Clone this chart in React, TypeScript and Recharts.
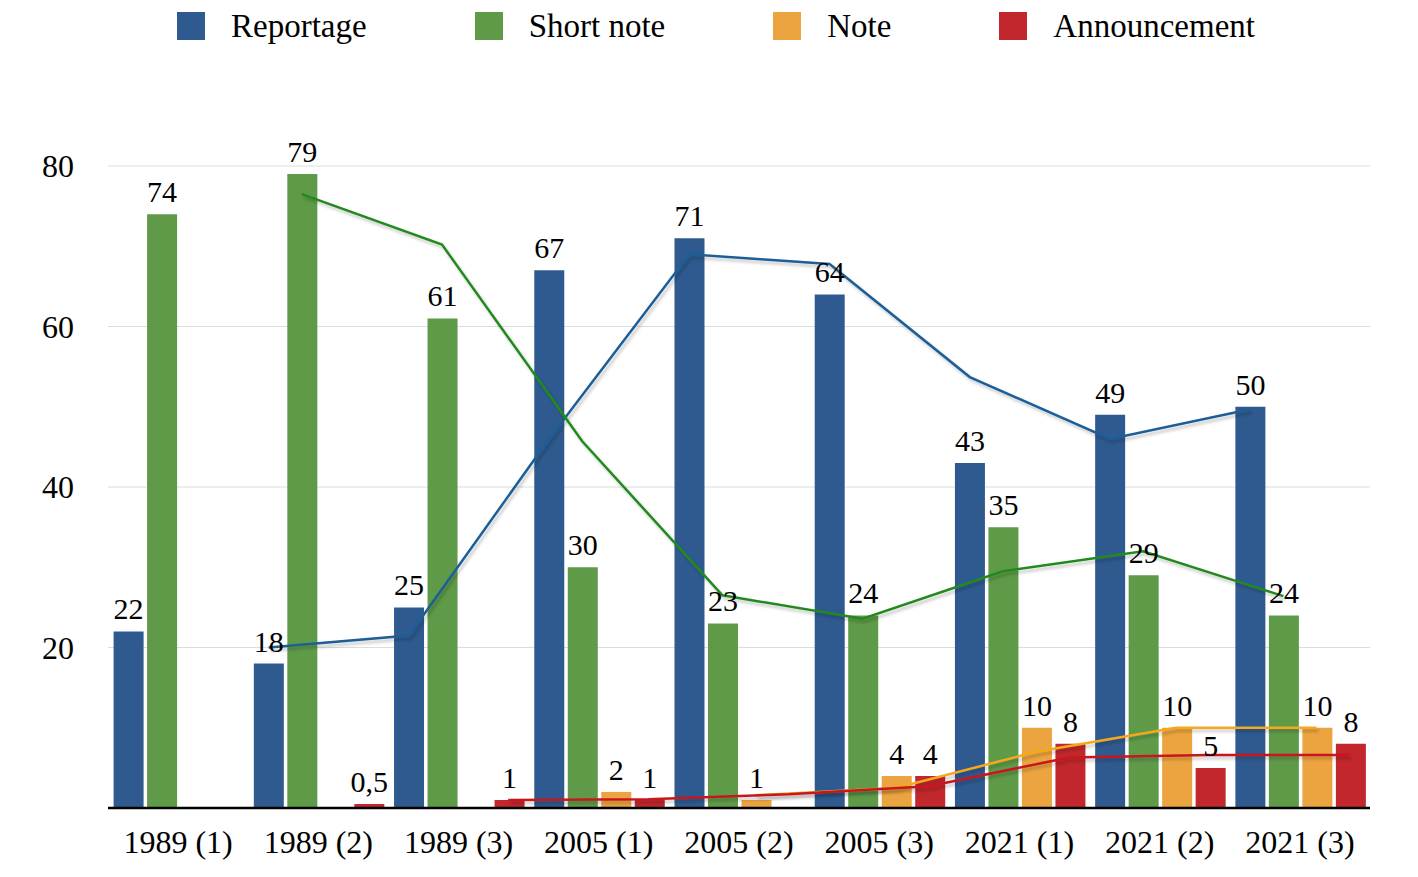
import {
  ComposedChart,
  Bar,
  Line,
  XAxis,
  YAxis,
  CartesianGrid,
  Legend,
  LabelList,
} from "recharts";

const periods = [
  "1989 (1)",
  "1989 (2)",
  "1989 (3)",
  "2005 (1)",
  "2005 (2)",
  "2005 (3)",
  "2021 (1)",
  "2021 (2)",
  "2021 (3)",
];

const reportage = [22, 18, 25, 67, 71, 64, 43, 49, 50];
const shortNote = [74, 79, 61, 30, 23, 24, 35, 29, 24];
const note = [0, 0, 0, 2, 1, 4, 10, 10, 10];
const announcement = [0, 0.5, 1, 1, 0, 4, 8, 5, 8];

// trend lines (null = no point)
const reportageTrend = [null, 20, 21.5, 46, 69, 67.8, 53.7, 46, 49.7];
const shortNoteTrend = [null, 76.5, 70.2, 45.7, 26.5, 23.6, 29.5, 32, 26.4];
const noteTrend = [null, null, null, null, 1.6, 2.5, 7, 10, 10];
const announcementTrend = [null, null, 1, 1.1, 1.7, 2.7, 6.3, 6.6, 6.6];

const yTicks = [20, 40, 60, 80];

const FONT = '"Liberation Serif", "Times New Roman", serif';

const series = [
  { key: "reportage", name: "Reportage", values: reportage, trend: reportageTrend, bar: "#2E5A8F", line: "#1D5E96" },
  { key: "shortNote", name: "Short note", values: shortNote, trend: shortNoteTrend, bar: "#5E9A48", line: "#238A1F" },
  { key: "note", name: "Note", values: note, trend: noteTrend, bar: "#EBA43F", line: "#F5A81F" },
  { key: "announcement", name: "Announcement", values: announcement, trend: announcementTrend, bar: "#C1272D", line: "#C8171E" },
];

// each trend line sits on its own bar, so shift it inside the category band
const barShift = [-0.354, -0.118, 0.118, 0.354];

const data = periods.map((period, i) => {
  const row: Record<string, string | number> = { period };
  series.forEach((s) => {
    row[s.key] = s.values[i];
  });
  return row;
});

const trendRows = (trend: (number | null)[], shift: number) =>
  trend
    .map((value, i) => ({ x: i + 0.5 + shift, value }))
    .filter((p) => p.value !== null);

const formatValue = (v: unknown) => {
  const n = Number(v);
  if (!n) return "";
  return String(n).replace(".", ",");
};

// legend keeps the series order (recharts would sort it by name)
function LegendContent() {
  return (
    <div
      style={{
        display: "flex",
        justifyContent: "center",
        alignItems: "center",
        gap: 108,
        height: 36,
        paddingLeft: 14,
        fontFamily: FONT,
        fontSize: 33,
        color: "#000",
      }}
    >
      {series.map((s) => (
        <div key={s.key} style={{ display: "flex", alignItems: "center" }}>
          <span
            style={{
              display: "inline-block",
              width: 28,
              height: 28,
              background: s.bar,
              marginRight: 26,
            }}
          />
          <span>{s.name}</span>
        </div>
      ))}
    </div>
  );
}

export default function App() {
  return (
    <ComposedChart
      width={1402}
      height={860}
      data={data}
      margin={{ top: 122, right: 40, bottom: 10, left: 0 }}
      barGap={3.5}
      barCategoryGap={5.6}
    >
      <defs>
        <filter id="trendShadow" x="-5%" y="-20%" width="110%" height="140%">
          <feDropShadow dx="2" dy="3" stdDeviation="1.5" floodColor="#000" floodOpacity="0.22" />
        </filter>
      </defs>
      <CartesianGrid vertical={false} stroke="#dcdcdc" />
      <XAxis
        dataKey="period"
        axisLine={{ stroke: "#000", strokeWidth: 2.5 }}
        tickLine={false}
        tickSize={0}
        tickMargin={22}
        height={50}
        tick={{ fill: "#000", fontSize: 32, fontFamily: FONT }}
        interval={0}
      />
      <XAxis xAxisId="trend" type="number" dataKey="x" domain={[0, periods.length]} allowDataOverflow hide />
      <YAxis
        domain={[0, 80]}
        ticks={yTicks}
        width={100}
        axisLine={false}
        tickLine={false}
        tickSize={0}
        tickMargin={34}
        tick={{ fill: "#000", fontSize: 32, fontFamily: FONT }}
      />
      <Legend
        verticalAlign="top"
        content={<LegendContent />}
        wrapperStyle={{ top: 0, left: 0, width: 1402 }}
      />
      {series.map((s) => (
        <Bar key={s.key} dataKey={s.key} name={s.name} fill={s.bar} isAnimationActive={false}>
          <LabelList
            dataKey={s.key}
            position="top"
            offset={12}
            formatter={formatValue}
            style={{ fill: "#000", fontSize: 30, fontFamily: FONT }}
          />
        </Bar>
      ))}
      {series.map((s, idx) => (
        <Line
          key={s.key + "Trend"}
          xAxisId="trend"
          data={trendRows(s.trend, barShift[idx])}
          dataKey="value"
          type="linear"
          stroke={s.line}
          strokeWidth={2.5}
          dot={false}
          activeDot={false}
          legendType="none"
          filter="url(#trendShadow)"
          isAnimationActive={false}
        />
      ))}
    </ComposedChart>
  );
}
